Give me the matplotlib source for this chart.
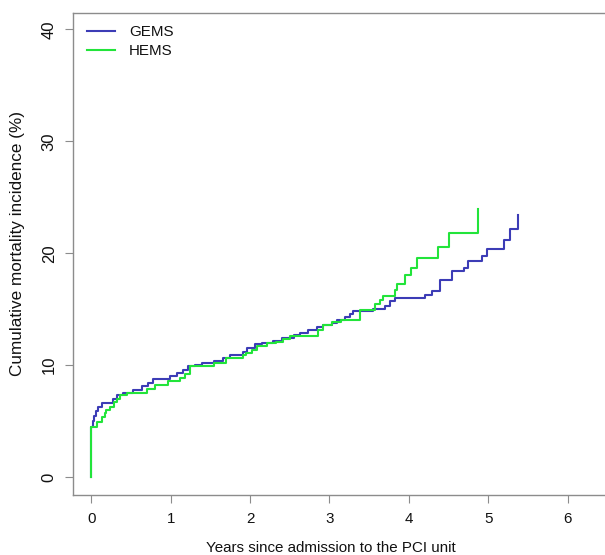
import matplotlib
matplotlib.use("Agg")
import matplotlib.pyplot as plt

plt.rcParams['font.family'] = ['Liberation Sans', 'DejaVu Sans']

# GEMS cumulative incidence (step function)
gems_t = [0, 0, 0.02, 0.04, 0.06, 0.09, 0.13, 0.27, 0.32, 0.40, 0.53, 0.64, 0.72, 0.78,
          0.99, 1.08, 1.16, 1.22, 1.30, 1.39, 1.54, 1.66, 1.75, 1.91, 1.96, 2.06, 2.15,
          2.29, 2.40, 2.55, 2.63, 2.73, 2.84, 2.92, 3.03, 3.10, 3.20, 3.26, 3.30, 3.55,
          3.70, 3.76, 3.82, 4.20, 4.29, 4.39, 4.54, 4.69, 4.74, 4.92, 4.99, 5.20, 5.27,
          5.37, 5.37]
gems_y = [0, 4.5, 5.0, 5.5, 5.9, 6.3, 6.6, 7.0, 7.3, 7.55, 7.8, 8.1, 8.4, 8.8,
          9.0, 9.3, 9.6, 9.9, 10.0, 10.2, 10.4, 10.6, 10.9, 11.2, 11.5, 11.9, 12.0,
          12.2, 12.4, 12.7, 12.9, 13.15, 13.4, 13.6, 13.8, 14.0, 14.3, 14.6, 14.8, 15.05,
          15.3, 15.7, 16.0, 16.3, 16.6, 17.6, 18.4, 18.7, 19.3, 19.8, 20.4, 21.2, 22.2,
          22.2, 23.4]

# HEMS cumulative incidence (step function)
hems_t = [0, 0, 0.07, 0.13, 0.17, 0.19, 0.24, 0.28, 0.32, 0.36, 0.45, 0.70, 0.80, 0.97,
          1.12, 1.18, 1.24, 1.54, 1.70, 1.91, 1.95, 2.02, 2.09, 2.21, 2.33, 2.42, 2.50,
          2.86, 2.92, 3.03, 3.15, 3.39, 3.57, 3.63, 3.68, 3.82, 3.85, 3.95, 4.03, 4.10,
          4.37, 4.50, 4.87, 4.87]
hems_y = [0, 4.5, 4.95, 5.4, 5.7, 6.0, 6.3, 6.7, 7.0, 7.3, 7.5, 7.9, 8.2, 8.6,
          8.9, 9.2, 9.9, 10.2, 10.6, 10.9, 11.1, 11.4, 11.7, 12.0, 12.1, 12.3, 12.6,
          13.15, 13.6, 13.9, 14.0, 14.9, 15.5, 15.8, 16.2, 16.7, 17.3, 18.1, 18.65, 19.55,
          20.6, 21.85, 21.85, 24.0]

series_names = ["GEMS", "HEMS"]
xticks = [0, 1, 2, 3, 4, 5, 6]
yticks = [0, 10, 20, 30, 40]

W, H = 605, 555
fig = plt.figure(figsize=(W / 100, H / 100), dpi=100)
left, right, top, bottom = 72.7, 605, 12.7, 495
ax = fig.add_axes([left / W, 1 - bottom / H, (right - left) / W, (bottom - top) / H])

blue = "#3c3cb6"
green = "#22e43a"
ax.plot(gems_t, gems_y, drawstyle="steps-post", color=blue, lw=1.5, label=series_names[0])
ax.plot(hems_t, hems_y, drawstyle="steps-post", color=green, lw=1.5, label=series_names[1])

ax.set_xlim(-0.234, 6.47)
ax.set_ylim(-1.6, 41.5)
ax.set_xticks(xticks)
ax.set_yticks(yticks)
ax.set_xticklabels([str(v) for v in xticks], fontsize=10.9)
ax.set_yticklabels([str(v) for v in yticks], fontsize=12, rotation=90, va="center")

gray = "#8c8c8c"
for s in ["left", "bottom", "top"]:
    ax.spines[s].set_color(gray)
    ax.spines[s].set_linewidth(1.0)
ax.spines["right"].set_visible(False)
ax.tick_params(axis="both", direction="out", length=5.5, width=0.8, color=gray, labelcolor="#111111")
ax.tick_params(axis="x", pad=7)
ax.tick_params(axis="y", pad=6)

fig.text(331 / W, 1 - 548 / H, "Years since admission to the PCI unit", ha="center", va="center",
         fontsize=10.9, color="#111111")
fig.text(18 / W, 1 - 243 / H, "Cumulative mortality incidence (%)", ha="center", va="center",
         rotation=90, fontsize=12.3, color="#111111")

leg = ax.legend(loc="upper left", bbox_to_anchor=(86.7 / W, 1 - 25 / H), bbox_transform=fig.transFigure,
                frameon=False, fontsize=10.9, handlelength=1.85, handletextpad=0.93,
                labelspacing=0.32, borderpad=0, borderaxespad=0)
for t in leg.get_texts():
    t.set_color("#111111")

fig.savefig("out.png", dpi=100)
